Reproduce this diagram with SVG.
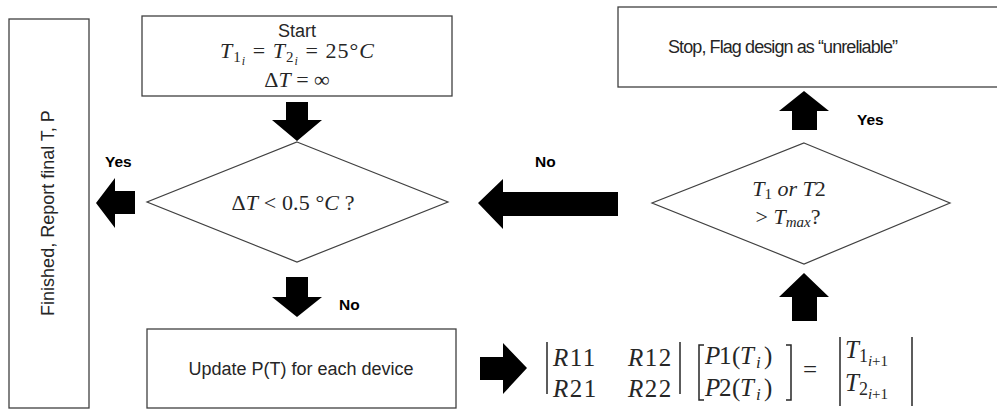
<svg xmlns="http://www.w3.org/2000/svg" width="997" height="414" viewBox="0 0 997 414">
<style>
.box{fill:#fff;stroke:#404040;stroke-width:1.3}
.dia{fill:#fff;stroke:#404040;stroke-width:1.2}
.arr{fill:#000}
.t{font-family:"Liberation Sans",Arial,sans-serif;font-size:18px;fill:#262626}
.lb{font-family:"Liberation Sans",Arial,sans-serif;font-size:15.5px;font-weight:bold;fill:#000}
.m{font-family:"Liberation Serif","Times New Roman",serif;font-size:22px;fill:#262626}
.mx{font-family:"Liberation Serif","Times New Roman",serif;font-size:25px;fill:#262626}
.i{font-style:italic}
.br{fill:none;stroke:#262626;stroke-width:1.5}
</style>
<rect width="997" height="414" fill="#fff"/>
<g id="finished">
<rect class="box" x="9" y="19" width="80" height="389"/>
<text class="t" x="0" y="0" text-anchor="middle" transform="translate(54,213) rotate(-90)">Finished, Report final T, P</text>
</g>
<g id="start">
<rect class="box" x="142" y="16" width="310" height="80"/>
<text class="t" x="297" y="37" text-anchor="middle">Start</text>
<text class="m" x="297" y="58" text-anchor="middle" textLength="154"><tspan class="i">T</tspan><tspan font-size="15" dy="4">1</tspan><tspan font-size="12" class="i" dy="3">i</tspan><tspan dy="-7"> = </tspan><tspan class="i">T</tspan><tspan font-size="15" dy="4">2</tspan><tspan font-size="12" class="i" dy="3">i</tspan><tspan dy="-7"> = 25°</tspan><tspan class="i">C</tspan></text>
<text class="m" x="297" y="87" text-anchor="middle">Δ<tspan class="i">T</tspan> =  ∞</text>
</g>
<g id="check-dt">
<polygon class="dia" points="297,142 448,202 297,262 147,202"/>
<text class="m" x="293" y="210" text-anchor="middle" textLength="123">Δ<tspan class="i">T</tspan> &lt; 0.5 °<tspan class="i">C</tspan>  ?</text>
</g>
<g id="update">
<rect class="box" x="147" y="329" width="309" height="79"/>
<text class="t" x="301" y="375" text-anchor="middle">Update P(T) for each device</text>
</g>
<g id="equation">
<line class="br" x1="547" y1="342" x2="547" y2="394"/>
<line class="br" x1="680" y1="342" x2="680" y2="394"/>
<text class="mx" x="553" y="366" letter-spacing="1.5"><tspan class="i">R</tspan>11</text>
<text class="mx" x="628" y="366" letter-spacing="1.5"><tspan class="i">R</tspan>12</text>
<text class="mx" x="553" y="397" letter-spacing="1.5"><tspan class="i">R</tspan>21</text>
<text class="mx" x="628" y="397" letter-spacing="1.5"><tspan class="i">R</tspan>22</text>
<path class="br" d="M704,345 H699 V400 H704"/>
<path class="br" d="M786,345 H791 V400 H786"/>
<text class="mx" y="364"><tspan class="i" x="705">P</tspan><tspan x="719">1</tspan><tspan x="732">(</tspan><tspan class="i" x="740">T</tspan><tspan class="i" font-size="17" x="756" dy="4">i</tspan><tspan x="764" dy="-4">)</tspan></text>
<text class="mx" y="396"><tspan class="i" x="705">P</tspan><tspan x="719">2</tspan><tspan x="732">(</tspan><tspan class="i" x="740">T</tspan><tspan class="i" font-size="17" x="756" dy="4">i</tspan><tspan x="764" dy="-4">)</tspan></text>
<text class="mx" x="803" y="378" font-size="27">=</text>
<line class="br" x1="840" y1="337" x2="840" y2="406"/>
<line class="br" x1="912" y1="337" x2="912" y2="406"/>
<text class="mx" x="845" y="358"><tspan class="i">T</tspan><tspan font-size="18" dy="4">1</tspan><tspan font-size="15" dy="4"><tspan class="i">i</tspan>+1</tspan></text>
<text class="mx" x="845" y="391"><tspan class="i">T</tspan><tspan font-size="18" dy="4">2</tspan><tspan font-size="15" dy="4"><tspan class="i">i</tspan>+1</tspan></text>
</g>
<g id="check-tmax">
<polygon class="dia" points="804,143 950,203 804,264 652,203"/>
<text class="m" x="789" y="196" text-anchor="middle"><tspan class="i">T</tspan><tspan font-size="15" dy="3">1</tspan><tspan class="i" dy="-3"> or T</tspan>2</text>
<text class="m" x="788" y="224" text-anchor="middle">&gt; <tspan class="i">T</tspan><tspan class="i" font-size="15" dy="3">max</tspan><tspan dy="-3">?</tspan></text>
</g>
<g id="stop">
<rect class="box" x="618" y="7" width="390" height="80"/>
<text class="t" x="783" y="53" text-anchor="middle" textLength="230">Stop, Flag design as “unreliable”</text>
</g>
<g id="connectors">
<polygon class="arr" points="286,102 308,102 308,120 322,120 297,141 272,120 286,120"/>
<polygon class="arr" points="286,277 308,277 308,297 322,297 297,317 272,297 286,297"/>
<polygon class="arr" points="135,191 115,191 115,178 96,203 115,228 115,214 135,214"/>
<polygon class="arr" points="618,192 503,192 503,179 478,203 503,229 503,216 618,216"/>
<polygon class="arr" points="480,357 503,357 503,343 527,368 503,394 503,380 480,380"/>
<polygon class="arr" points="792,321 792,297 779,297 804,273 829,297 817,297 817,321"/>
<polygon class="arr" points="792,130 792,111 779,111 804,91 829,111 817,111 817,130"/>
<text class="lb" x="105" y="167">Yes</text>
<text class="lb" x="339" y="310">No</text>
<text class="lb" x="535" y="167">No</text>
<text class="lb" x="857" y="125">Yes</text>
</g>
</svg>
